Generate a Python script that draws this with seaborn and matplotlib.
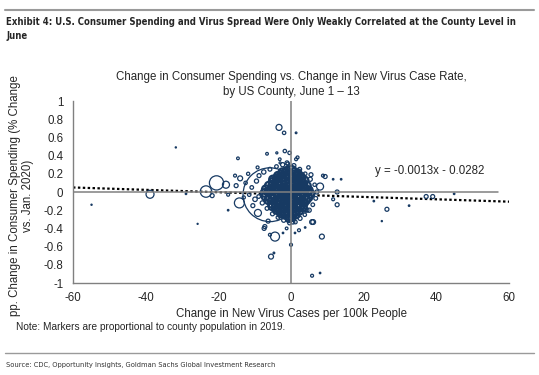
import numpy as np
import pandas as pd
import matplotlib
matplotlib.use("Agg")
import matplotlib.pyplot as plt
from matplotlib import font_manager as fm
import seaborn as sns

# ---------------- data ----------------
# dense core of counties
core_x = [-1.2, 0.1, 1.0, -2.4, 1.9,
          -2.6, -1.4, -0.3, 0.8, 1.9, -3.6, 2.8,
          -3.9, -2.7, -1.5, -0.4, 0.7, 1.8, 2.9, -5.0, 3.8,
          -5.0, -3.8, -2.6, -1.3, -0.2, 0.9, 2.1, 3.2,
          -6.1, -4.9, -3.6, -2.5, -1.2, -0.1, 1.1, 2.3, 3.5, 4.4,
          -6.9, -5.7, -4.4, -3.3, -2.1, -0.9, 0.2, 1.4, 2.6, 3.8, 4.9,
          -7.3, -6.1, -4.9, -3.7, -2.5, -1.3, -0.2, 1.0, 2.2, 3.4, 4.6, 5.4,
          -7.0, -5.8, -4.5, -3.4, -2.2, -1.0, 0.1, 1.3, 2.5, 3.7, 4.8,
          -6.2, -5.0, -3.9, -2.7, -1.5, -0.4, 0.8, 2.0, 3.1, 4.2,
          -5.3, -4.1, -3.0, -1.8, -0.7, 0.5, 1.6, 2.8, 3.6,
          -4.2, -3.1, -1.9, -0.8, 0.3, 1.4, 2.5, -5.2, 3.4,
          -3.0, -1.9, -0.8, 0.3, 1.3, -4.0, 2.3,
          -1.7, -0.6, 0.4, -2.8, 1.4,
          -0.5, 0.3]
core_y = [0.23, 0.24, 0.22, 0.22, 0.21,
          0.19, 0.20, 0.18, 0.19, 0.18, 0.18, 0.17,
          0.15, 0.16, 0.14, 0.15, 0.16, 0.14, 0.15, 0.14, 0.13,
          0.11, 0.10, 0.12, 0.11, 0.10, 0.12, 0.11, 0.10,
          0.07, 0.08, 0.06, 0.07, 0.08, 0.06, 0.07, 0.08, 0.06, 0.07,
          0.03, 0.02, 0.04, 0.03, 0.02, 0.04, 0.03, 0.02, 0.04, 0.03, 0.02,
          -0.01, 0.00, -0.02, -0.01, 0.00, -0.02, -0.01, 0.00, -0.02, -0.01, 0.00, -0.02,
          -0.05, -0.06, -0.04, -0.05, -0.06, -0.04, -0.05, -0.06, -0.04, -0.05, -0.06,
          -0.09, -0.08, -0.10, -0.09, -0.08, -0.10, -0.09, -0.08, -0.10, -0.09,
          -0.13, -0.14, -0.12, -0.13, -0.14, -0.12, -0.13, -0.14, -0.12,
          -0.17, -0.18, -0.16, -0.17, -0.18, -0.16, -0.17, -0.16, -0.17,
          -0.21, -0.22, -0.20, -0.21, -0.22, -0.20, -0.21,
          -0.25, -0.26, -0.24, -0.24, -0.25,
          -0.29, -0.28]
core_pop = [220, 260, 200, 180, 170,
            240, 300, 280, 230, 210, 190, 180,
            210, 270, 320, 290, 250, 260, 200, 180, 170,
            220, 280, 300, 330, 310, 270, 240, 210,
            200, 260, 300, 320, 340, 330, 290, 260, 230, 190,
            210, 250, 290, 320, 350, 340, 330, 300, 270, 240, 200,
            200, 240, 280, 310, 340, 350, 340, 310, 280, 250, 220, 190,
            210, 250, 290, 320, 340, 350, 330, 300, 270, 240, 200,
            210, 250, 290, 320, 340, 330, 300, 270, 240, 200,
            200, 250, 290, 320, 330, 300, 270, 230, 200,
            210, 260, 290, 310, 290, 250, 210, 170, 170,
            220, 260, 290, 260, 220, 180, 180,
            210, 250, 220, 170, 170,
            190, 170]

# halo of smaller counties around the core
halo_x = [-9.5, -10.8, -9.9, -11.5, -8.8, -7.5, -5.8, -4.0, -2.3, -0.9, 0.8, 2.4,
          3.9, 5.3, 6.5, 7.1, 6.8, 6.0, 5.0, 3.8, 2.5, 1.2, -0.4, -2.0, -3.6,
          -5.1, -6.6, -7.9, -8.9, -12.5, -13.0, -10.5, -9.2, -11.8, 4.8, -3.1,
          1.8, -1.2, 2.2, -6.3, 0.5, 3.9, 5.8, -1.1]
halo_y = [0.12, 0.05, -0.08, -0.03, 0.18, 0.22, 0.25, 0.28, 0.30, 0.31, 0.29, 0.25,
          0.20, 0.14, 0.08, 0.00, -0.07, -0.14, -0.20, -0.25, -0.29, -0.33, -0.34,
          -0.31, -0.28, -0.24, -0.18, -0.12, -0.05, 0.10, -0.06, -0.15, 0.27, 0.20,
          0.27, 0.36, 0.38, -0.40, -0.42, -0.32, -0.33, -0.20, -0.33, 0.32]
halo_pop = [60, 45, 70, 40, 55, 65, 50, 45, 60, 40, 55, 50,
            45, 60, 40, 55, 50, 45, 60, 40, 55, 45, 50, 60, 45,
            55, 50, 60, 45, 40, 35, 55, 30, 35, 40, 25,
            30, 25, 30, 55, 55, 55, 80, 55]

# scattered outlier counties
out_x = [-5.8, -54.9, -31.7, -38.8, -28.9, -25.7, -23.4, -20.5, -17.9, -21.7, -14.2,
         -15.4, -17.3, -17.3, -3.3, -1.9, 1.4, -14.6, -6.6, -3.9, -1.7, -0.4, -3.0,
         1.4, 5.5, 9.4, 8.8, 11.6, 13.8, 8.0, 12.7, 11.6, 12.7, 6.1, 3.9, 1.1, -2.2,
         -9.1, -4.4, 8.5, -7.4, -5.8, 0.0, -5.5, -4.7, 5.8, 8.0, 4.4, -7.2, 37.2,
         39.0, 44.9, 22.8, 26.4, 32.5, 25.0, -14.0, -15.1]
out_y = [-0.03, -0.14, 0.49, -0.025, -0.02, -0.35, 0.005, 0.10, 0.08, -0.04, -0.12,
         0.18, -0.03, -0.20, 0.71, 0.65, 0.65, 0.37, 0.42, 0.43, 0.45, 0.43, 0.32,
         0.36, 0.19, 0.17, 0.18, 0.14, 0.14, 0.06, 0.00, -0.08, -0.14, -0.33, -0.39,
         -0.45, -0.45, -0.23, -0.49, -0.49, -0.40, -0.47, -0.58, -0.71, -0.67, -0.92,
         -0.89, -0.20, -0.38, -0.05, -0.05, -0.02, -0.10, -0.19, -0.15, -0.32, 0.15,
         0.07]
out_pop = [10000, 5, 5, 220, 8, 4, 450, 700, 170, 55, 345,
           30, 30, 8, 124, 40, 10, 25, 25, 15, 40, 40, 15,
           30, 55, 55, 30, 8, 8, 170, 55, 30, 55, 80, 8, 8, 8,
           170, 280, 85, 55, 30, 30, 85, 10, 30, 8, 55, 55, 55,
           55, 8, 8, 55, 8, 5, 85, 55]

# regression line from the chart
slope = -0.0013
intercept = -0.0282

x_ticks = [-60, -40, -20, 0, 20, 40, 60]
y_ticks = [1, 0.8, 0.6, 0.4, 0.2, 0, -0.2, -0.4, -0.6, -0.8, -1]
y_tick_labels = ["1", "0.8", "0.6", "0.4", "0.2", "0", "-0.2", "-0.4", "-0.6", "-0.8", "-1"]

# ---------------- figure ----------------
sns.set_style("white")
plt.rcParams["font.family"] = ["Liberation Sans", "DejaVu Sans"]

navy = "#173A63"
gray = "#808080"
FS = 8.3

# pick a condensed bold font if one is installed
narrow_family = ["Liberation Sans", "DejaVu Sans"]
narrow_stretch = "normal"
try:
    p = fm.findfont(fm.FontProperties(family="DejaVu Sans", weight="bold",
                                      stretch="condensed"), fallback_to_default=False)
    if "ondensed" in p:
        narrow_family = ["DejaVu Sans"]
        narrow_stretch = "condensed"
except Exception:
    pass

core_df = pd.DataFrame({"x": core_x, "y": core_y, "pop": core_pop})
rest_df = pd.DataFrame({"x": halo_x + out_x, "y": halo_y + out_y,
                        "pop": halo_pop + out_pop}).sort_values("pop", ascending=False)

fig = plt.figure(figsize=(5.39, 3.75), dpi=100)
ax = fig.add_axes([73 / 539, 1 - 283 / 375, 436 / 539, 182 / 375])

# trend line (dotted), beneath markers
xs = np.array([x_ticks[0], x_ticks[-1]], dtype=float)
ax.plot(xs, slope * xs + intercept, color="black", linestyle=(0, (1.1, 1.1)),
        linewidth=1.6, zorder=1)

sns.scatterplot(data=rest_df, x="x", y="y", size="pop", sizes=(0, 1500),
                size_norm=(0, 10000), facecolor="none", edgecolor=navy,
                linewidth=0.9, legend=False, ax=ax, zorder=2)
sns.scatterplot(data=core_df, x="x", y="y", size="pop", sizes=(0, 1500),
                size_norm=(0, 10000), facecolor="none", edgecolor=navy,
                linewidth=1.6, legend=False, ax=ax, zorder=2)

# zero lines on top
ax.axhline(0, xmin=0, xmax=(57 + 60) / 120, color=gray, linewidth=1.1, zorder=3)
ax.axvline(0, color=gray, linewidth=1.1, zorder=3)

ax.set_xlim(-60, 60)
ax.set_ylim(-1, 1)
ax.set_xticks(x_ticks)
ax.set_xticklabels([str(v) for v in x_ticks])
ax.set_yticks(y_ticks)
ax.set_yticklabels(y_tick_labels)

for s in ["top", "right"]:
    ax.spines[s].set_visible(False)
for s in ["left", "bottom"]:
    ax.spines[s].set_color(gray)
    ax.spines[s].set_linewidth(1.0)
ax.tick_params(axis="y", direction="out", length=4, color=gray, labelsize=FS, pad=3)
ax.tick_params(axis="x", direction="inout", length=5, color=gray, labelsize=FS, pad=4)

ax.set_xlabel("Change in New Virus Cases per 100k People", fontsize=FS, labelpad=3)
ax.set_ylabel("pp. Change in Consumer Spending (% Change\nvs. Jan. 2020)",
              fontsize=FS, ha="center", linespacing=1.1)
ax.yaxis.set_label_coords(-0.09, 0.48)

ax.text(23, 0.23, "y = -0.0013x - 0.0282", fontsize=FS, ha="left", va="center")

ax.set_title("Change in Consumer Spending vs. Change in New Virus Case Rate,\n"
             "by US County, June 1 \u2013 13", fontsize=FS, linespacing=1.35, pad=4)

# surrounding report furniture
fig.add_artist(plt.Line2D([5 / 539, 534 / 539], [1 - 10 / 375, 1 - 10 / 375],
                          color="#9A9A9A", linewidth=1.5))
title_t = fig.text(6 / 539, 1 - 17 / 375,
                   "Exhibit 4: U.S. Consumer Spending and Virus Spread Were Only Weakly Correlated at the County Level in\nJune",
                   fontsize=9, fontweight="bold", va="top", ha="left", linespacing=1.45,
                   family=narrow_family, fontstretch=narrow_stretch)
fig.text(16 / 539, 1 - 327 / 375,
         "Note: Markers are proportional to county population in 2019.",
         fontsize=7.3, va="center", ha="left")
fig.add_artist(plt.Line2D([5 / 539, 534 / 539], [1 - 353 / 375, 1 - 353 / 375],
                          color="#9A9A9A", linewidth=1.0))
src_t = fig.text(6 / 539, 1 - 365 / 375,
                 "Source: CDC, Opportunity Insights, Goldman Sachs Global Investment Research",
                 fontsize=6.5, va="center", ha="left", color="#333333",
                 family=narrow_family, fontstretch=narrow_stretch)


def fit_width(t, target_px):
    fig.canvas.draw()
    w = t.get_window_extent(fig.canvas.get_renderer()).width
    if w > 0:
        t.set_fontsize(t.get_fontsize() * target_px / w)


fit_width(title_t, 513)
fit_width(src_t, 270)

fig.savefig("out.png", dpi=100)
